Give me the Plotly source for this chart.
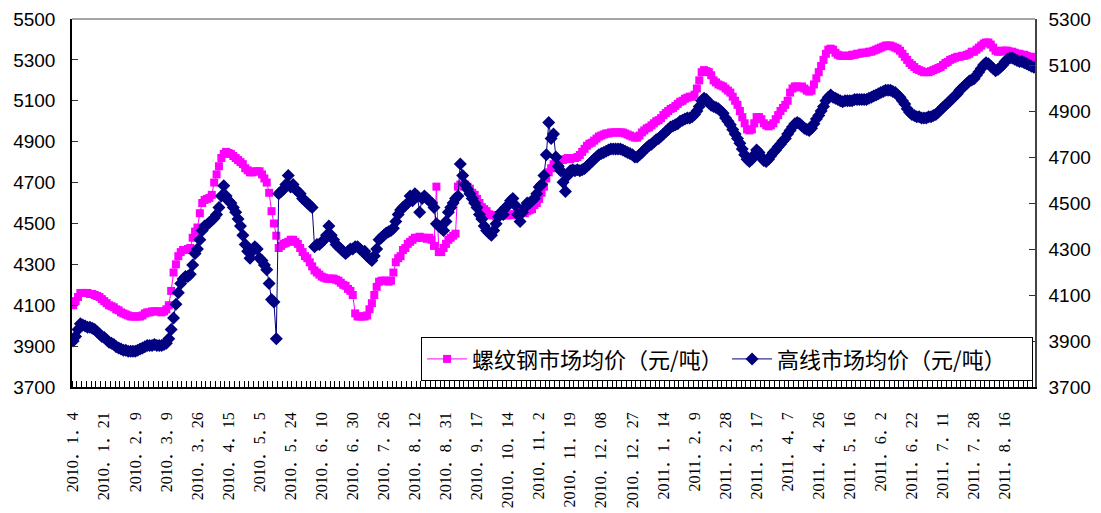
import plotly.graph_objects as go

# ---- data ----
tick_labels = ["2010．1．4", "2010．1．21", "2010．2．9", "2010．3．9", "2010．3．26",
               "2010．4．15", "2010．5．5", "2010．5．24", "2010．6．10", "2010．6．30",
               "2010．7．26", "2010．8．12", "2010．8．31", "2010．9．17", "2010．10．14",
               "2010．11．2", "2010．11．19", "2010．12．08", "2010．12．27", "2011．1．14",
               "2011．2．9", "2011．2．28", "2011．3．17", "2011．4．7", "2011．4．26",
               "2011．5．16", "2011．6．2", "2011．6．22", "2011．7．11", "2011．7．28",
               "2011．8．16"]
label_step = 13  # one label every 13 trading days

rebar_name = "螺纹钢市场均价（元/吨）"
wire_name = "高线市场均价（元/吨）"

rebar = [
    4100, 4120, 4140, 4160, 4160, 4160, 4160, 4155, 4155, 4150, 4145, 4140, 4130,
    4120, 4110, 4100, 4095, 4090, 4080, 4075, 4065, 4060, 4055, 4050, 4045, 4045,
    4045, 4045, 4045, 4050, 4060, 4065, 4065, 4070, 4070, 4070, 4070, 4065, 4070,
    4080, 4100, 4170, 4260, 4300, 4340, 4360, 4370, 4370, 4375, 4380, 4430, 4460,
    4480, 4550, 4600, 4615, 4620, 4625, 4640, 4700, 4740, 4780, 4820, 4840, 4850,
    4845, 4840, 4830, 4820, 4810, 4800, 4790, 4770, 4760, 4750, 4750, 4755, 4755,
    4755, 4740, 4720, 4700, 4650, 4560, 4500, 4440, 4380, 4390, 4400, 4405, 4410,
    4420, 4420, 4410, 4400, 4380, 4360, 4340, 4330, 4310, 4290, 4270, 4260, 4250,
    4240, 4235, 4230, 4230, 4230, 4230, 4225, 4220, 4210, 4200, 4195, 4180, 4170,
    4150, 4060, 4045, 4045, 4045, 4045, 4050, 4080, 4110, 4150, 4190, 4215, 4220,
    4220, 4220, 4215, 4220, 4260, 4310, 4330, 4340, 4370, 4380, 4400, 4410, 4420,
    4430, 4430, 4435, 4430, 4430, 4425, 4430, 4420, 4390, 4680, 4360, 4360, 4380,
    4400, 4420, 4430, 4440, 4450, 4680, 4690, 4690, 4690, 4680, 4670, 4650, 4640,
    4620, 4600, 4580, 4570, 4560, 4545, 4540, 4540, 4535, 4540, 4540, 4540, 4540,
    4540, 4545, 4540, 4545, 4550, 4560, 4555, 4550, 4560, 4565, 4570, 4590, 4600,
    4620, 4650, 4680, 4720, 4750, 4770, 4790, 4800, 4800, 4810, 4810, 4815, 4820,
    4815, 4820, 4820, 4825, 4835, 4850, 4865, 4880, 4890, 4895, 4905, 4915, 4925,
    4930, 4935, 4940, 4940, 4945, 4945, 4945, 4945, 4945, 4945, 4940, 4935, 4930,
    4925, 4920, 4920, 4930, 4945, 4955, 4965, 4970, 4980, 4990, 5000, 5005, 5015,
    5030, 5040, 5050, 5060, 5065, 5075, 5085, 5095, 5100, 5110, 5115, 5120, 5120,
    5130, 5160, 5200, 5240, 5250, 5245, 5240, 5225, 5200, 5190, 5180, 5175, 5170,
    5160, 5150, 5140, 5120, 5100, 5080, 5050, 5020, 4990, 4960, 4955, 4960, 4990,
    5020, 5020, 5010, 4990, 4980, 4975, 4980, 4990, 5010, 5030, 5050, 5065, 5080,
    5100, 5140, 5160, 5170, 5170, 5165, 5170, 5160, 5150, 5145, 5150, 5180, 5210,
    5240, 5270, 5300, 5330, 5350, 5355, 5350, 5335, 5325, 5320, 5320, 5320, 5320,
    5320, 5325, 5325, 5330, 5330, 5335, 5335, 5335, 5340, 5340, 5345, 5350, 5355,
    5360, 5365, 5370, 5370, 5370, 5365, 5360, 5355, 5345, 5330, 5315, 5300, 5285,
    5275, 5265, 5255, 5250, 5245, 5240, 5240, 5240, 5245, 5250, 5255, 5260, 5265,
    5275, 5285, 5290, 5300, 5305, 5310, 5315, 5315, 5320, 5320, 5325, 5330, 5340,
    5340, 5350, 5360, 5370, 5380, 5385, 5385, 5375, 5360, 5345, 5340, 5340, 5345,
    5345, 5345, 5340, 5340, 5335, 5330, 5330, 5325, 5325, 5320, 5315, 5315, 5310,
]

wire = [
    3900, 3920, 3950, 3975, 3970, 3965, 3960, 3960, 3955, 3950, 3940, 3930, 3920,
    3915, 3905, 3895, 3890, 3885, 3875, 3870, 3865, 3860, 3860, 3855, 3855, 3855,
    3855, 3860, 3865, 3870, 3875, 3880, 3880, 3880, 3885, 3880, 3880, 3880, 3885,
    3890, 3910, 3950, 4000, 4060, 4110, 4150, 4170, 4180, 4180, 4190, 4230, 4280,
    4300, 4340, 4380, 4400, 4405, 4415, 4425, 4435, 4450, 4480, 4530, 4575, 4530,
    4510, 4500, 4480, 4460, 4430, 4400, 4360, 4320, 4290, 4260, 4290, 4310, 4300,
    4260, 4250, 4230, 4210, 4150, 4080, 4070, 3910, 4540, 4550, 4560, 4580, 4620,
    4570, 4580, 4560, 4550, 4540, 4520, 4510, 4500, 4490, 4480, 4310, 4320, 4320,
    4330, 4340, 4360, 4400, 4360, 4340, 4320, 4310, 4300, 4290, 4280, 4290, 4300,
    4300, 4310, 4310, 4300, 4290, 4290, 4270, 4260, 4250, 4270, 4300, 4340, 4350,
    4360, 4370, 4375, 4380, 4390, 4420, 4450, 4470, 4480, 4490, 4500, 4530, 4510,
    4540, 4530, 4460, 4520, 4530, 4520, 4510, 4500, 4480, 4410, 4400, 4390, 4380,
    4420, 4460, 4480, 4500, 4520, 4530, 4670, 4620, 4580, 4560, 4540, 4520, 4500,
    4480, 4450, 4430, 4400, 4380, 4370, 4360, 4380, 4410, 4440, 4460, 4450, 4480,
    4490, 4510, 4520, 4490, 4450, 4420, 4460, 4480, 4500, 4500, 4510, 4520, 4540,
    4570, 4580, 4620, 4710, 4850, 4780, 4800, 4700, 4660, 4640, 4590, 4550, 4620,
    4640, 4645, 4640, 4645, 4640, 4645, 4650, 4660, 4670, 4680, 4690, 4700, 4710,
    4715, 4720, 4725, 4730, 4735, 4735, 4735, 4735, 4735, 4730, 4725, 4720, 4715,
    4710, 4700, 4700, 4710, 4720, 4730, 4740, 4750, 4755, 4765, 4775, 4780, 4790,
    4800, 4810, 4820, 4830, 4835, 4840, 4845, 4855, 4860, 4865, 4870, 4870, 4875,
    4885, 4900, 4920, 4945, 4955, 4950, 4935, 4925, 4920, 4915, 4910, 4900, 4890,
    4870, 4855, 4840, 4820, 4800, 4780, 4760, 4735, 4710, 4690, 4680, 4690, 4710,
    4730, 4720, 4700, 4685, 4680, 4690, 4705, 4720, 4730, 4745, 4755, 4770, 4780,
    4800, 4815, 4830, 4845, 4850, 4845, 4835, 4825, 4820, 4815, 4825, 4845, 4865,
    4880, 4900, 4920, 4945, 4960, 4970, 4960, 4955, 4950, 4945, 4940, 4945, 4945,
    4945, 4945, 4950, 4950, 4950, 4950, 4950, 4950, 4955, 4960, 4965, 4970, 4975,
    4980, 4985, 4990, 4990, 4990, 4985, 4980, 4970, 4960, 4945, 4930, 4910, 4895,
    4885, 4880, 4875, 4875, 4870, 4870, 4870, 4875, 4875, 4880, 4885, 4895, 4905,
    4915, 4925, 4935, 4945, 4955, 4965, 4975, 4990, 5000, 5010, 5020, 5030, 5035,
    5040, 5055, 5070, 5085, 5100, 5110, 5105, 5095, 5085, 5075, 5080, 5090, 5100,
    5115, 5125, 5130, 5130, 5125, 5120, 5115, 5115, 5110, 5105, 5100, 5095, 5090,
]

# ---- figure ----
n = len(rebar)
x_idx = list(range(n))
tick_pos = [i * label_step for i in range(len(tick_labels))]

fig = go.Figure()
fig.add_trace(go.Scatter(
    x=x_idx, y=rebar, name=rebar_name, mode="lines+markers",
    line=dict(color="#FF00FF", width=1),
    marker=dict(symbol="square", size=8, color="#FF00FF"),
    yaxis="y",
))
fig.add_trace(go.Scatter(
    x=x_idx, y=wire, name=wire_name, mode="lines+markers",
    line=dict(color="#000080", width=1),
    marker=dict(symbol="diamond", size=10, color="#000080"),
    yaxis="y2",
))

axis_font = dict(family="Liberation Sans, Arial, sans-serif", size=19, color="black")

# the page adds an 8 px body margin, so the figure is sized to fit the window
fig.update_layout(
    width=1093, height=505,
    margin=dict(l=64, r=66, t=11, b=126, pad=0),
    paper_bgcolor="white", plot_bgcolor="white",
    showlegend=True,
    legend=dict(
        orientation="h", xanchor="right", yanchor="bottom",
        x=0.998, y=0.016,
        bgcolor="white", bordercolor="black", borderwidth=1,
        font=dict(family="Noto Sans CJK SC, sans-serif", size=22, color="black"),
        itemwidth=40, tracegroupgap=0,
        entrywidth=250, entrywidthmode="pixels",
    ),
    xaxis=dict(
        range=[-0.5, n - 0.5], automargin=False,
        tickmode="array", tickvals=tick_pos, ticktext=tick_labels,
        tickangle=-90,
        tickfont=dict(family="Liberation Serif, Noto Sans CJK SC, serif", size=16, color="black"),
        ticks="", showgrid=False, zeroline=False,
        showline=True, linecolor="black", linewidth=1.5,
        ticklabelstandoff=17,
        minor=dict(tick0=-0.5, dtick=2, ticks="inside", ticklen=6,
                   tickcolor="black", tickwidth=1, showgrid=False),
    ),
    yaxis=dict(
        range=[3700, 5500], dtick=200, tick0=3700, automargin=False,
        ticks="inside", ticklen=6, tickcolor="#333333",
        showgrid=False, zeroline=False,
        showline=True, linecolor="black", linewidth=1.5,
        tickfont=axis_font, ticklabelstandoff=11,
    ),
    yaxis2=dict(
        range=[3700, 5300], dtick=200, tick0=3700, automargin=False,
        overlaying="y", side="right",
        ticks="inside", ticklen=6, tickcolor="#333333",
        showgrid=False, zeroline=False,
        showline=True, linecolor="#444444", linewidth=1.5,
        tickfont=axis_font, ticklabelstandoff=8,
    ),
    shapes=[dict(type="line", xref="paper", yref="paper", x0=0, x1=1, y0=1, y1=1,
                 line=dict(color="#888888", width=1.5))],
)

fig.write_html("out.html")
